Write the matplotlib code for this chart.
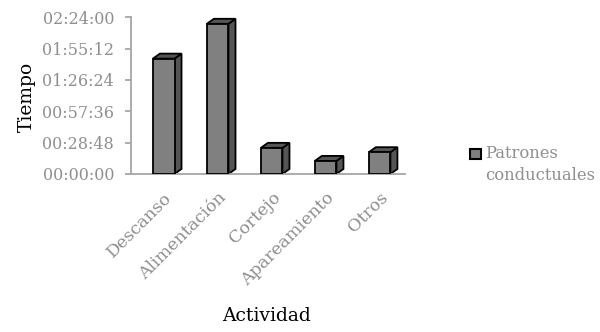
import numpy as np
import matplotlib
matplotlib.use("Agg")
import matplotlib.pyplot as plt
from matplotlib.patches import Polygon, Rectangle
from matplotlib.ticker import FuncFormatter
from matplotlib.transforms import ScaledTranslation

plt.rcParams['font.family'] = ['DejaVu Serif']

# time spent per activity, in minutes
actividades = ['Descanso', 'Alimentación', 'Cortejo', 'Apareamiento', 'Otros']
minutos = [106, 138, 24, 12, 20]
yticks_min = [0, 28.8, 57.6, 86.4, 115.2, 144]

gray_txt = '#8f8f8f'
front = '#808080'
dark = '#555555'

fig = plt.figure(figsize=(6, 3.32), dpi=100)
ax = fig.add_axes([0.218, 0.476, 0.457, 0.472])

x = np.arange(len(actividades))
w = 0.4
bars = ax.bar(x, minutos, width=w, color=front, edgecolor='black', linewidth=1.3, zorder=3)
ax.set_xlim(-0.61, 4.47)
ax.set_ylim(0, 144)

# depth of the pseudo 3D boxes, in pixels -> data units
inv = ax.transData.inverted()
p0 = inv.transform(ax.transData.transform((0, 0)))
p1 = inv.transform(ax.transData.transform((0, 0)) + np.array([7, 5]))
ddx, ddy = p1 - p0

for b in bars:
    x0 = b.get_x()
    x1 = x0 + b.get_width()
    h = b.get_height()
    side = [(x1, 0), (x1 + ddx, ddy), (x1 + ddx, h + ddy), (x1, h)]
    top = [(x0, h), (x0 + ddx, h + ddy), (x1 + ddx, h + ddy), (x1, h)]
    for pts in (side, top):
        ax.add_patch(Polygon(pts, closed=True, facecolor=dark, edgecolor='black',
                             linewidth=1.3, zorder=2, clip_on=False))


def hms(v, pos):
    s = int(round(v * 60))
    return '%02d:%02d:%02d' % (s // 3600, (s % 3600) // 60, s % 60)


ax.set_yticks(yticks_min)
ax.yaxis.set_major_formatter(FuncFormatter(hms))
ax.set_xticks(x)
ax.set_xticklabels(actividades, rotation=45, ha='right', va='top', rotation_mode='anchor')
shift = ScaledTranslation(-12 / 100, 0, fig.dpi_scale_trans)
for lab in ax.get_xticklabels():
    lab.set_transform(lab.get_transform() + shift)

for s in ['top', 'right']:
    ax.spines[s].set_visible(False)
for s in ['left', 'bottom']:
    ax.spines[s].set_color('#a6a6a6')
    ax.spines[s].set_linewidth(1.3)
ax.tick_params(axis='y', colors='#a6a6a6', labelcolor=gray_txt, labelsize=11.5,
               length=4, width=1.3, pad=8)
ax.tick_params(axis='x', length=0, labelcolor=gray_txt, labelsize=12.5, pad=11)

fig.text(27 / 600, 1 - 97 / 332, 'Tiempo', fontsize=13.5, rotation=90,
         ha='center', va='center')
fig.text(266 / 600, 1 - 316 / 332, 'Actividad', fontsize=13.5, ha='center', va='center')

# legend drawn by hand so the swatch sits on the first line
fig.patches.append(Rectangle((470 / 600, 1 - 159 / 332), 11 / 600, 10 / 332,
                             transform=fig.transFigure, facecolor=front,
                             edgecolor='black', linewidth=1.5))
fig.text(485 / 600, 1 - 145 / 332, 'Patrones\nconductuales', fontsize=11.8,
         color=gray_txt, ha='left', va='top', linespacing=1.35,
         multialignment='left')

fig.savefig('out.png', dpi=100)
